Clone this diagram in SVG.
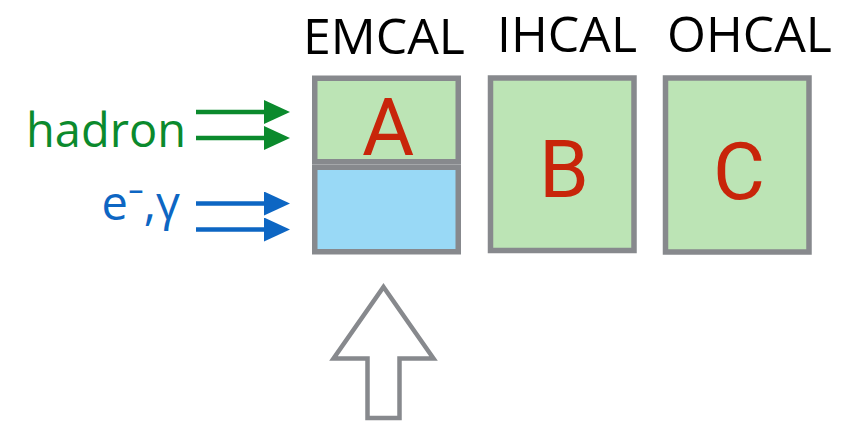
<svg xmlns="http://www.w3.org/2000/svg" width="841" height="421" viewBox="0 0 841 421">
  <style>
    .box { stroke: #87898d; stroke-width: 5.5; }
    .had { fill: #bce4b5; }
    .em { fill: #99d9f6; }
    .title { font-family: "Open Sans", "Noto Sans", sans-serif; font-size: 50px; fill: #000; }
    .tag { font-family: Roboto, "Liberation Sans", sans-serif; font-size: 80px; fill: #c8250a; text-anchor: middle; }
    .lbl { font-family: "Open Sans", "Noto Sans", sans-serif; font-size: 47px; text-anchor: end; }
    .g { stroke: #0b8a2d; fill: #0b8a2d; }
    .b { stroke: #0d66c3; fill: #0d66c3; }
    .shaft { stroke-width: 4.5; fill: none; }
  </style>
  <defs>
    <marker id="headG" markerUnits="userSpaceOnUse" markerWidth="28" markerHeight="26" refX="0" refY="12" orient="auto">
      <path d="M0,0 L26,12 L0,24 Z" fill="#0b8a2d"/>
    </marker>
    <marker id="headB" markerUnits="userSpaceOnUse" markerWidth="28" markerHeight="26" refX="0" refY="12" orient="auto">
      <path d="M0,0 L26,12 L0,24 Z" fill="#0d66c3"/>
    </marker>
  </defs>

  <rect width="841" height="421" fill="#fff"/>

  <!-- calorimeter titles -->
  <text class="title" x="303" y="54">EMCAL</text>
  <text class="title" x="497" y="52">IHCAL</text>
  <text class="title" x="667" y="52">OHCAL</text>

  <!-- EMCAL: hadronic upper part and electromagnetic lower part -->
  <g id="emcal">
    <rect class="box had" x="314.75" y="78.25" width="143.5" height="83.5"/>
    <rect class="box em" x="314.75" y="167.25" width="143.5" height="84.5"/>
    <text class="tag" x="388" y="155">A</text>
  </g>

  <g id="ihcal">
    <rect class="box had" x="490.5" y="78" width="143.5" height="172.5"/>
    <text class="tag" x="564" y="197">B</text>
  </g>

  <g id="ohcal">
    <rect class="box had" x="665.5" y="78" width="143.5" height="174"/>
    <text class="tag" x="739" y="199">C</text>
  </g>

  <!-- incoming particle labels -->
  <text class="lbl" x="186" y="147" fill="#0b8a2d">hadron</text>
  <text class="lbl" x="180" y="220" fill="#0d66c3">e⁻,γ</text>

  <!-- incoming particle arrows -->
  <g id="connectors">
    <line class="shaft g" x1="196" y1="112" x2="264" y2="112" marker-end="url(#headG)"/>
    <line class="shaft g" x1="196" y1="138" x2="264" y2="138" marker-end="url(#headG)"/>
    <line class="shaft b" x1="196" y1="203.5" x2="264" y2="203.5" marker-end="url(#headB)"/>
    <line class="shaft b" x1="196" y1="229.5" x2="264" y2="229.5" marker-end="url(#headB)"/>
    <polygon points="383.5,287 433.5,358.5 399.5,358.5 399.5,418 367.5,418 367.5,358.5 333.5,358.5" fill="#fff" stroke="#87898d" stroke-width="4.5" stroke-linejoin="miter" stroke-miterlimit="10"/>
  </g>
</svg>
